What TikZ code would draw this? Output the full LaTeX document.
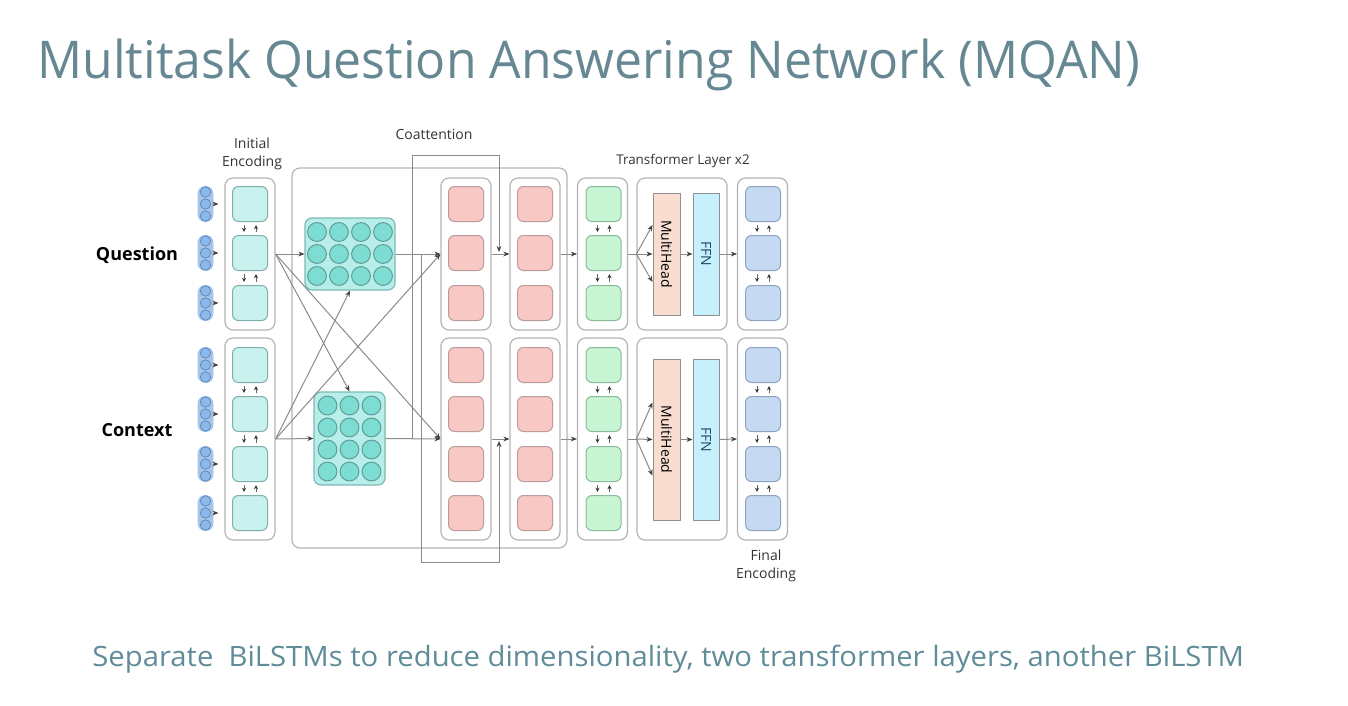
\documentclass[tikz,border=0pt]{standalone}
\usepackage{fontspec}
\setmainfont{Open Sans}
\usepackage{graphicx}
\usetikzlibrary{arrows.meta,calc,positioning}
\definecolor{titlecol}{HTML}{668893}
\definecolor{capcol}{HTML}{5F8C98}
\definecolor{boxline}{HTML}{B4B4B4}
\definecolor{wire}{HTML}{8A8A8A}
\definecolor{encfill}{HTML}{C9F2EE}
\definecolor{encline}{HTML}{7FAFAC}
\definecolor{matfill}{HTML}{B7EEEA}
\definecolor{matline}{HTML}{7CB9B4}
\definecolor{dotfill}{HTML}{7EDDD3}
\definecolor{dotline}{HTML}{5E9E99}
\definecolor{pillfill}{HTML}{A9C5E6}
\definecolor{pilldot}{HTML}{8DB8EA}
\definecolor{pillline}{HTML}{5F8AC0}
\definecolor{pinkfill}{HTML}{F8C8C5}
\definecolor{pinkline}{HTML}{BC9C9A}
\definecolor{grnfill}{HTML}{C8F6D4}
\definecolor{grnline}{HTML}{8CB99A}
\definecolor{bluefill}{HTML}{C5D9F3}
\definecolor{blueline}{HTML}{8DA3BF}
\definecolor{mhfill}{HTML}{F8DDD0}
\definecolor{ffnfill}{HTML}{C6F1FC}
\definecolor{ffntext}{HTML}{1E4A66}

\begin{document}
\begin{tikzpicture}
[x=0.5pt,y=-0.5pt,
colbox/.style={draw=boxline,fill=white,rounded corners=4pt,line width=.6pt,
  minimum width=25pt,inner sep=0pt},
cell/.style={rounded corners=3pt,minimum width=17.5pt,minimum height=17.5pt,
  line width=.5pt,inner sep=0pt},
pill/.style={draw=pilldot!80!white,fill=pillfill,rounded corners=3.5pt,
  minimum width=7.5pt,minimum height=17.5pt,inner sep=0pt},
matbox/.style={draw=matline,fill=matfill,rounded corners=3.5pt,line width=.6pt,inner sep=0pt},
bar/.style={draw=boxline!80!black,line width=.5pt,minimum width=13.5pt,inner sep=0pt,
  font=\fontsize{7}{8}\selectfont},
wire/.style={draw=wire,line width=.5pt},
arr/.style={wire,-{Stealth[length=3pt,width=2.4pt,color=black!75]}},
bi/.style={draw=black!60,line width=.4pt,shorten <=1.6pt,shorten >=1.6pt,
  -{Stealth[length=2pt,width=2pt,color=black!80]}},
lbl/.style={text=black!80,align=center,font=\fontsize{7}{9}\selectfont}]
\useasboundingbox (0,0) rectangle (1348,706);

\node (title) at (37,79) [anchor=base west,inner sep=0pt,text=titlecol,
  font=\fontsize{26}{30}\selectfont]
  {\scalebox{0.96}[1]{Multitask Question Answering Network (MQAN)}};
\node (caption) at (92,666) [anchor=base west,inner sep=0pt,text=capcol,
  font=\fontsize{14}{16}\selectfont]
  {\scalebox{1.045}[1]{Separate\ \ BiLSTMs to reduce dimensionality, two transformer layers, another BiLSTM}};

% coattention block and the two crossing paths
\node (attn) at (429.5,358) [draw=boxline,rounded corners=4pt,line width=.6pt,
  minimum width=137.5pt,minimum height=190pt] {};
\coordinate (pa) at (412,155);
\coordinate (pb) at (499,155);
\coordinate (qa) at (421,562);
\coordinate (qb) at (499,562);

\node (lbinit) at (252,154) [lbl] {Initial\\Encoding};
\node (lbcoatt) at (434,134) [lbl] {Coattention};
\node (lbtrans) at (683,161) [lbl,font=\fontsize{6.7}{9}\selectfont] {Transformer Layer x2};
\node (lbfinal) at (766,566) [lbl] {Final\\Encoding};
\node (lbq) at (137,255) [font=\fontsize{9}{11}\selectfont\bfseries] {Question};
\node (lbc) at (137,430) [font=\fontsize{9}{11}\selectfont\bfseries] {Context};

% column boxes
\foreach \col/\x in {enc/250,coa/466,cob/535,lstm/602.5,fin/762.5} {
  \node (q\col) at (\x,254) [colbox,minimum height=76pt] {};
  \node (c\col) at (\x,439) [colbox,minimum height=101pt] {};
}
\node (qtr) at (682,254) [colbox,minimum width=45pt,minimum height=76pt] {};
\node (ctr) at (682,439) [colbox,minimum width=45pt,minimum height=101pt] {};

% cells
\foreach \col/\x/\f/\d in {enc/250/encfill/encline,coa/466/pinkfill/pinkline,
  cob/535/pinkfill/pinkline,lstm/603.5/grnfill/grnline,fin/763/bluefill/blueline} {
  \foreach \n/\y in {1/204,2/253,3/303}
    \node (q\col\n) at (\x,\y) [cell,fill=\f,draw=\d] {};
  \foreach \n/\y in {1/365,2/414,3/464,4/513}
    \node (c\col\n) at (\x,\y) [cell,fill=\f,draw=\d] {};
}

% BiLSTM links
\foreach \col in {enc,lstm,fin} {
  \foreach \a/\b in {1/2,2/3} {
    \draw[bi] ([xshift=-3pt]q\col\a.south) -- ([xshift=-3pt]q\col\b.north);
    \draw[bi] ([xshift=3pt]q\col\b.north) -- ([xshift=3pt]q\col\a.south);
  }
  \foreach \a/\b in {1/2,2/3,3/4} {
    \draw[bi] ([xshift=-3pt]c\col\a.south) -- ([xshift=-3pt]c\col\b.north);
    \draw[bi] ([xshift=3pt]c\col\b.north) -- ([xshift=3pt]c\col\a.south);
  }
}

% word inputs
\foreach \n/\y in {1/204,2/253,3/303} {
  \node (qin\n) at (205.5,\y) [pill] {};
  \foreach \d in {-12,0,12}
    \draw[draw=pillline,fill=pilldot,line width=.4pt] (205.5,\y+\d) circle (2.6pt);
  \draw[arr,shorten >=3pt] (qin\n.east) -- (qin\n -| qenc.west);
}
\foreach \n/\y in {1/365,2/414,3/464,4/513} {
  \node (cin\n) at (205.5,\y) [pill] {};
  \foreach \d in {-12,0,12}
    \draw[draw=pillline,fill=pilldot,line width=.4pt] (205.5,\y+\d) circle (2.6pt);
  \draw[arr,shorten >=3pt] (cin\n.east) -- (cin\n -| cenc.west);
}

% compressed encodings
\node (qmat) at (350,254) [matbox,minimum width=45pt,minimum height=36pt] {};
\node (cmat) at (349.5,438.5) [matbox,minimum width=35.5pt,minimum height=46.5pt] {};
\foreach \i in {-33,-11,11,33}
  \foreach \j in {-22,0,22}
    \draw[draw=dotline,fill=dotfill,line width=.5pt] ($(qmat)+(\i,\j)$) circle (4.7pt);
\foreach \i in {-22,0,22}
  \foreach \j in {-33,-11,11,33}
    \draw[draw=dotline,fill=dotfill,line width=.5pt] ($(cmat)+(\i,\j)$) circle (4.7pt);

\draw[arr] (qenc.east) -- (qmat.west);
\draw[arr] (qenc.east) -- (cmat.north);
\draw[arr] (qenc.east) -- (ccoa.west);
\draw[arr] (cenc.east) -- (cmat.west);
\draw[arr] (cenc.east) -- (qmat.south);
\draw[arr] (cenc.east) -- (qcoa.west);

\draw[arr] (qmat.east) -- (qcoa.west);
\draw[arr] (cmat.east) -- (ccoa.west);
\draw[arr,shorten >=1pt] (cmat.east -| pa) -- (pa) -- (pb) -- (pb |- qcoa.east);
\draw[arr,shorten >=1pt] (qmat.east -| qa) -- (qa) -- (qb) -- (qb |- ccoa.east);

\draw[arr] (qcoa.east) -- (qcob.west);
\draw[arr] (ccoa.east) -- (ccob.west);
\draw[arr] (qcob.east) -- (qlstm.west);
\draw[arr] (ccob.east) -- (clstm.west);

% transformer layer
\node (qmh) at (666.5,254) [bar,fill=mhfill,minimum height=61pt] {\rotatebox{-90}{MultiHead}};
\node (qffn) at (706,254) [bar,fill=ffnfill,minimum width=13pt,minimum height=61pt,
  text=ffntext] {\rotatebox{-90}{FFN}};
\node (cmh) at (666.5,439.5) [bar,fill=mhfill,minimum height=80.5pt] {\rotatebox{-90}{MultiHead}};
\node (cffn) at (706,439.5) [bar,fill=ffnfill,minimum width=13pt,minimum height=80.5pt,
  text=ffntext] {\rotatebox{-90}{FFN}};

\draw[wire] (qlstm.east) -- (qtr.west);
\draw[wire] (clstm.east) -- (ctr.west);
\foreach \s in {14.5pt,0pt,-14pt}
  \draw[arr] (qtr.west) -- ([yshift=\s]qmh.west);
\foreach \s in {18.5pt,0pt,-18pt}
  \draw[arr] (ctr.west) -- ([yshift=\s]cmh.west);
\draw[arr] (qmh.east) -- (qffn.west);
\draw[arr] (cmh.east) -- (cffn.west);
\draw[arr] (qffn.east) -- (qfin.west);
\draw[arr] (cffn.east) -- (cfin.west);
\end{tikzpicture}
\end{document}
